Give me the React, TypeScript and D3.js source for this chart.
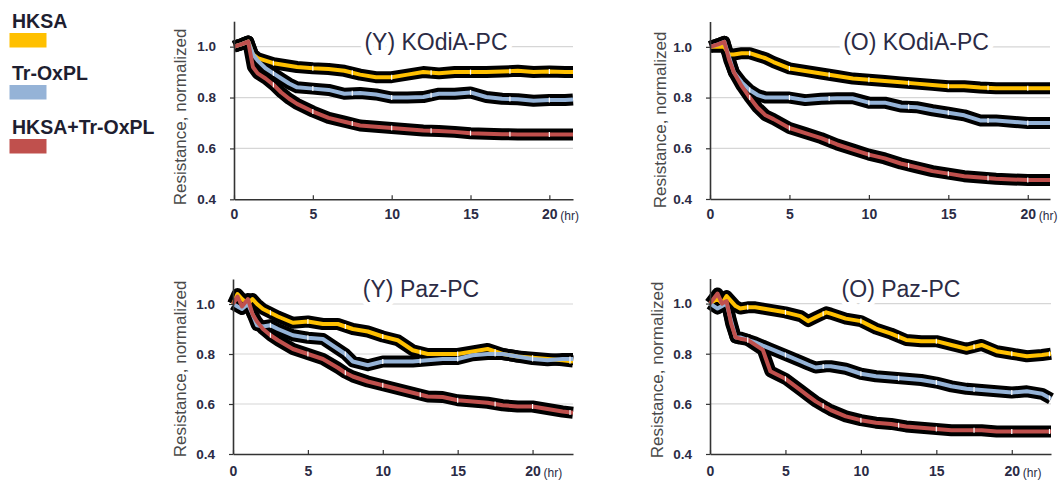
import { useEffect, useRef } from "react";
import * as d3 from "d3";

const seriesNames = ["HKSA", "Tr-OxPL", "HKSA+Tr-OxPL"];
const seriesColors = ["#FFC000", "#95B3D7", "#C0504D"];

const yTicks = [0.4, 0.6, 0.8, 1.0];
const xTicks = [0, 5, 10, 15, 20];
const gridValues = [0.6, 0.8, 1.0];

// (Y) KOdiA-PC
const yKodiaTime = [0, 0.5, 0.9, 1.2, 1.5, 2, 2.5, 3, 3.5, 4, 5, 6, 7, 8, 9, 10, 11, 12, 13, 14, 15, 16, 17, 18, 19, 20, 21, 21.5];
const yKodiaHksa = [1.0, 1.01, 1.02, 0.97, 0.955, 0.945, 0.935, 0.93, 0.925, 0.92, 0.915, 0.912, 0.905, 0.89, 0.88, 0.88, 0.89, 0.9, 0.895, 0.9, 0.9, 0.9, 0.902, 0.905, 0.9, 0.902, 0.9, 0.9];
const yKodiaOxpl = [1.0, 1.01, 1.02, 0.97, 0.945, 0.915, 0.895, 0.875, 0.855, 0.84, 0.835, 0.83, 0.815, 0.818, 0.812, 0.8, 0.8, 0.802, 0.815, 0.815, 0.82, 0.802, 0.795, 0.793, 0.787, 0.79, 0.79, 0.792];
const yKodiaBoth = [1.0, 1.01, 1.02, 0.92, 0.895, 0.875, 0.85, 0.82, 0.795, 0.775, 0.745, 0.72, 0.705, 0.69, 0.685, 0.68, 0.675, 0.67, 0.668, 0.665, 0.66, 0.658, 0.656, 0.655, 0.655, 0.655, 0.655, 0.655];

// (O) KOdiA-PC
const oKodiaTime = [0, 0.5, 0.9, 1.2, 1.5, 2, 2.5, 3, 3.5, 4, 5, 6, 7, 8, 9, 10, 11, 12, 13, 14, 15, 16, 17, 18, 19, 20, 21, 21.4];
const oKodiaHksa = [1.0, 1.0, 1.0, 0.97, 0.97, 0.975, 0.975, 0.965, 0.955, 0.94, 0.915, 0.905, 0.895, 0.885, 0.875, 0.87, 0.865, 0.86, 0.855, 0.85, 0.845, 0.845, 0.84, 0.837, 0.837, 0.837, 0.837, 0.837];
const oKodiaOxpl = [1.0, 1.01, 1.02, 0.96, 0.9, 0.86, 0.83, 0.81, 0.8, 0.8, 0.8, 0.79, 0.795, 0.797, 0.797, 0.78, 0.78, 0.765, 0.762, 0.75, 0.74, 0.73, 0.71, 0.71, 0.705, 0.7, 0.7, 0.7];
const oKodiaBoth = [1.0, 1.01, 1.02, 0.95, 0.9, 0.845, 0.8, 0.76, 0.73, 0.715, 0.68, 0.66, 0.64, 0.615, 0.595, 0.575, 0.56, 0.54, 0.525, 0.51, 0.5, 0.49, 0.485, 0.48, 0.477, 0.475, 0.475, 0.475];

// (Y) Paz-PC
const yPazTime = [0, 0.3, 0.6, 1.0, 1.3, 1.6, 2, 2.5, 3, 4, 5, 6, 7, 7.5, 8, 9, 10, 11, 12, 13, 14, 15, 16, 17, 18, 19, 20, 21, 22, 22.7];
const yPazHksa = [1.0, 1.04, 1.02, 1.0, 1.02, 1.0, 0.98, 0.965, 0.95, 0.925, 0.93, 0.92, 0.92, 0.91, 0.9, 0.89, 0.87, 0.855, 0.815, 0.8, 0.8, 0.8, 0.81, 0.82, 0.8, 0.79, 0.785, 0.78, 0.775, 0.77];
const yPazOxpl = [1.0, 0.99, 0.98, 1.0, 0.96, 0.915, 0.91, 0.915, 0.9, 0.875, 0.865, 0.86, 0.82, 0.8, 0.77, 0.755, 0.77, 0.77, 0.77, 0.775, 0.78, 0.78, 0.795, 0.8, 0.8, 0.79, 0.78, 0.775, 0.78, 0.78];
const yPazBoth = [1.0, 1.03, 0.99, 1.02, 0.96, 0.93, 0.9, 0.875, 0.855, 0.82, 0.8, 0.78, 0.745, 0.725, 0.71, 0.69, 0.675, 0.66, 0.645, 0.63, 0.628, 0.615, 0.61, 0.605, 0.595, 0.59, 0.59, 0.58, 0.57, 0.565];

// (O) Paz-PC
const oPazTime = [0, 0.5, 0.8, 1.1, 1.4, 1.7, 2, 2.5, 3, 3.5, 4, 5, 6, 6.5, 7, 7.7, 8, 9, 10, 11, 12, 13, 14, 15, 16, 17, 18, 19, 20, 21, 22, 22.6];
const oPazHksa = [1.0, 1.02, 1.0, 1.03, 1.01, 0.99, 0.98, 0.985, 0.985, 0.98, 0.975, 0.965, 0.95, 0.93, 0.945, 0.965, 0.96, 0.94, 0.93, 0.9, 0.88, 0.855, 0.85, 0.85, 0.835, 0.82, 0.835, 0.81, 0.8, 0.79, 0.795, 0.8];
const oPazOxpl = [1.0, 0.98, 0.99, 1.0, 0.93, 0.865, 0.865, 0.855, 0.845, 0.832, 0.82, 0.795, 0.77, 0.757, 0.745, 0.75, 0.75, 0.74, 0.72, 0.71, 0.705, 0.7, 0.695, 0.685, 0.67, 0.66, 0.655, 0.65, 0.645, 0.65, 0.64, 0.62];
const oPazBoth = [1.0, 1.04, 1.0, 1.01, 0.92, 0.865, 0.86, 0.855, 0.835, 0.815, 0.73, 0.7, 0.655, 0.632, 0.61, 0.585, 0.575, 0.55, 0.535, 0.525, 0.52, 0.51, 0.505, 0.5, 0.495, 0.495, 0.495, 0.49, 0.49, 0.49, 0.49, 0.49];

type PanelSpec = {
  title: string;
  time: number[];
  values: number[][];
  left: number;
  right: number;
  top: number;
  bottom: number;
  titleX: number;
  titleY: number;
  labelX: number;
  labelY: number;
  xPad: number;
};

const panels: PanelSpec[] = [
  { title: "(Y) KOdiA-PC", time: yKodiaTime, values: [yKodiaHksa, yKodiaOxpl, yKodiaBoth], left: 234, right: 573, top: 21.2, bottom: 199.3, titleX: 436, titleY: 50, labelX: 186, labelY: 117, xPad: 10 },
  { title: "(O) KOdiA-PC", time: oKodiaTime, values: [oKodiaHksa, oKodiaOxpl, oKodiaBoth], left: 710, right: 1050, top: 21.5, bottom: 199, titleX: 916, titleY: 50, labelX: 666, labelY: 120, xPad: 10 },
  { title: "(Y) Paz-PC", time: yPazTime, values: [yPazHksa, yPazOxpl, yPazBoth], left: 233, right: 573, top: 279, bottom: 454, titleX: 421, titleY: 297, labelX: 186, labelY: 369, xPad: 12 },
  { title: "(O) Paz-PC", time: oPazTime, values: [oPazHksa, oPazOxpl, oPazBoth], left: 710, right: 1051, top: 278.5, bottom: 454, titleX: 901, titleY: 297, labelX: 663, labelY: 370, xPad: 12 },
];

const font = "'Liberation Sans', Arial, sans-serif";
const textColor = "#2b2b45";

function Panel({ spec }: { spec: PanelSpec }) {
  const ref = useRef<SVGGElement | null>(null);

  useEffect(() => {
    if (!ref.current) return;
    const g = d3.select(ref.current);
    g.selectAll("*").remove();

    const { time, values, left, right, top, bottom } = spec;
    const xMax = time[time.length - 1];
    const x = d3.scaleLinear().domain([0, xMax]).range([left, right]);
    const y = d3.scaleLinear().domain([0.4, 1.1]).range([bottom, top]);

    // grid lines
    g.append("g")
      .selectAll("line")
      .data(gridValues)
      .join("line")
      .attr("x1", left)
      .attr("x2", right)
      .attr("y1", (d) => y(d))
      .attr("y2", (d) => y(d))
      .attr("stroke", "#d6d6d6")
      .attr("stroke-width", 1.2);

    // title, white halo cuts the grid line
    g.append("text")
      .attr("x", spec.titleX)
      .attr("y", spec.titleY)
      .attr("text-anchor", "middle")
      .attr("font-family", font)
      .attr("font-size", 23)
      .attr("fill", textColor)
      .attr("stroke", "#fff")
      .attr("stroke-width", 10)
      .attr("paint-order", "stroke")
      .text(spec.title);

    const line = d3
      .line<number>()
      .x((_, j) => x(time[j]))
      .y((d) => y(d));

    // error bands (black) under each series
    values.forEach((vals) => {
      g.append("path")
        .attr("d", line(vals))
        .attr("fill", "none")
        .attr("stroke", "#000")
        .attr("stroke-width", 12)
        .attr("stroke-linejoin", "round");
    });

    values.forEach((vals, i) => {
      g.append("path")
        .attr("d", line(vals))
        .attr("fill", "none")
        .attr("stroke", seriesColors[i])
        .attr("stroke-width", 4)
        .attr("stroke-linejoin", "round");

      // small white markers along the line
      const interp = d3.scaleLinear().domain(time).range(vals);
      g.append("g")
        .selectAll("line")
        .data(d3.range(2.5, xMax, 2.5))
        .join("line")
        .attr("x1", (t) => x(t))
        .attr("x2", (t) => x(t))
        .attr("y1", (t) => y(interp(t)) - 2.5)
        .attr("y2", (t) => y(interp(t)) + 2.5)
        .attr("stroke", "#fff")
        .attr("stroke-width", 1.2);
    });

    // axes
    const xAxis = g
      .append("g")
      .attr("transform", `translate(0,${bottom})`)
      .call(
        d3
          .axisBottom(x)
          .tickValues(xTicks)
          .tickSizeInner(-4)
          .tickSizeOuter(0)
          .tickPadding(spec.xPad)
          .tickFormat(d3.format("d")),
      );
    xAxis.select(".domain").attr("stroke", "#333").attr("stroke-width", 1.6);
    xAxis.selectAll("line").attr("stroke", "#333").attr("stroke-width", 1.2);
    xAxis
      .selectAll("text")
      .attr("font-family", font)
      .attr("font-size", 14)
      .attr("font-weight", "bold")
      .attr("fill", textColor);

    g.append("text")
      .attr("x", x(20) + 11)
      .attr("y", bottom + spec.xPad + 11)
      .attr("font-family", font)
      .attr("font-size", 12)
      .attr("fill", textColor)
      .text("(hr)");

    const yAxis = g
      .append("g")
      .attr("transform", `translate(${left},0)`)
      .call(
        d3
          .axisLeft(y)
          .tickValues(yTicks)
          .tickSizeInner(4)
          .tickSizeOuter(0)
          .tickPadding(14)
          .tickFormat(d3.format(".1f")),
      );
    yAxis.select(".domain").attr("stroke", "#333").attr("stroke-width", 1.6);
    yAxis.selectAll("line").attr("stroke", "#333").attr("stroke-width", 1.2);
    yAxis
      .selectAll("text")
      .attr("font-family", font)
      .attr("font-size", 13.5)
      .attr("font-weight", "bold")
      .attr("fill", textColor);

    g.append("text")
      .attr("transform", `translate(${spec.labelX},${spec.labelY}) rotate(-90)`)
      .attr("text-anchor", "middle")
      .attr("font-family", font)
      .attr("font-size", 17)
      .attr("fill", "#4a4a4a")
      .text("Resistance, normalized");
  }, [spec]);

  return <g ref={ref} />;
}

export default function App() {
  const legendY = [28, 80, 134];
  return (
    <svg
      width={1064}
      height={480}
      style={{ position: "absolute", left: 0, top: 0, background: "#fff" }}
    >
      <rect width={1064} height={480} fill="#fff" />
      {seriesNames.map((name, i) => (
        <g key={name}>
          <text
            x={12}
            y={legendY[i]}
            fontFamily={font}
            fontSize={19.5}
            fontWeight="bold"
            fill="#1e1e30"
          >
            {name}
          </text>
          <rect x={9.5} y={legendY[i] + 5} width={37} height={14.5} fill={seriesColors[i]} />
        </g>
      ))}
      {panels.map((p) => (
        <Panel key={p.title} spec={p} />
      ))}
    </svg>
  );
}
